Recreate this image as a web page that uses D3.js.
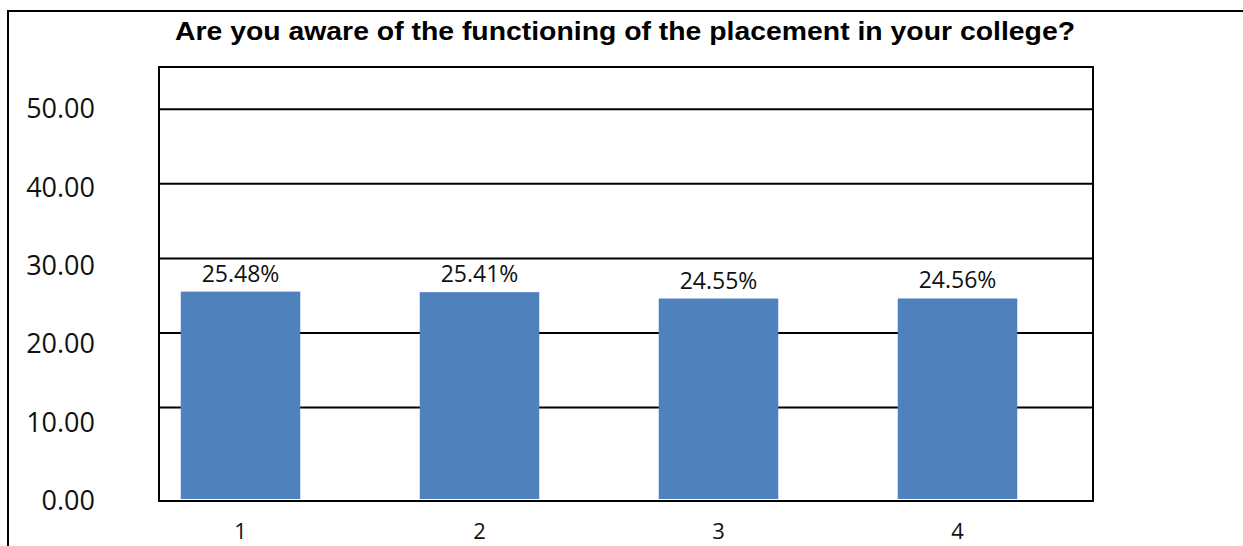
<!DOCTYPE html>
<html>
<head>
<meta charset="utf-8">
<script src="https://cdn.jsdelivr.net/npm/d3@7"></script>
<style>
  body { margin: 0; background: #fff; }
</style>
</head>
<body>
<div id="chart"></div>
<script>
// data
var categories = ["1", "2", "3", "4"];
var values = [25.48, 25.41, 24.55, 24.56];
var valueLabels = ["25.48%", "25.41%", "24.55%", "24.56%"];
var gridTicks = [10, 20, 30, 40, 50];
var tickLabels = [0, 10, 20, 30, 40, 50];
var title = "Are you aware of the functioning of the placement in your college?";

var W = 1243, H = 546;
// plot frame
var plot = {left: 159, top: 67, right: 1093, bottom: 501};

var svg = d3.select("#chart").append("svg")
    .attr("width", W)
    .attr("height", H);

// outer frame, only top and left edge visible
svg.append("path")
    .attr("d", "M8,546 L8,11 L1243,11")
    .attr("fill", "none")
    .attr("stroke", "#000")
    .attr("stroke-width", 2);

// x: band scale, categories sit a bit left of the plot centre
var x = d3.scaleBand()
    .domain(categories)
    .range([121, 1077])
    .paddingInner(0.5)
    .paddingOuter(0.25);

// y for grid and bars
var y = d3.scaleLinear()
    .domain([-2.6, 55.6])
    .range([plot.bottom, plot.top]);

// y for the tick labels (they do not line up with the grid in the picture)
var yLab = d3.scaleLinear()
    .domain([0, 50])
    .range([501, 109]);

// gridlines
svg.append("g")
    .attr("class", "grid")
    .attr("transform", "translate(" + plot.left + ",0)")
    .call(d3.axisLeft(y)
        .tickValues(gridTicks)
        .tickSize(-(plot.right - plot.left))
        .tickFormat(""))
    .call(function(g) { g.select(".domain").remove(); })
    .selectAll("line")
    .attr("stroke", "#000")
    .attr("stroke-width", 2);

// bars
svg.selectAll(".bar")
    .data(values)
  .enter().append("rect")
    .attr("class", "bar")
    .attr("x", function(d, i) { return x(categories[i]); })
    .attr("width", x.bandwidth())
    .attr("y", function(d) { return y(d); })
    .attr("height", function(d) { return plot.bottom - 2 - y(d); })
    .attr("fill", "#4F81BD");

// value labels
svg.selectAll(".vlabel")
    .data(values)
  .enter().append("text")
    .attr("class", "vlabel")
    .attr("x", function(d, i) { return x(categories[i]) + x.bandwidth() / 2; })
    .attr("y", function(d) { return y(d) - 10; })
    .attr("text-anchor", "middle")
    .style("font-family", '"Open Sans", sans-serif')
    .style("font-size", "23px")
    .style("fill", "#111")
    .text(function(d, i) { return valueLabels[i]; });

// plot frame
svg.append("rect")
    .attr("x", plot.left)
    .attr("y", plot.top)
    .attr("width", plot.right - plot.left)
    .attr("height", plot.bottom - plot.top)
    .attr("fill", "none")
    .attr("stroke", "#000")
    .attr("stroke-width", 2);

// y axis labels
var yAxis = svg.append("g")
    .attr("class", "y axis")
    .attr("transform", "translate(98,0)")
    .call(d3.axisLeft(yLab)
        .tickValues(tickLabels)
        .tickSize(0)
        .tickPadding(3)
        .tickFormat(d3.format(".2f")));
yAxis.select(".domain").remove();
yAxis.selectAll("text")
    .style("font-family", '"Open Sans", sans-serif')
    .style("font-size", "27px")
    .style("fill", "#111");

// x axis labels
var xAxis = svg.append("g")
    .attr("class", "x axis")
    .attr("transform", "translate(0," + plot.bottom + ")")
    .call(d3.axisBottom(x).tickSize(0).tickPadding(22));
xAxis.select(".domain").remove();
xAxis.selectAll("text")
    .style("font-family", '"Open Sans", sans-serif')
    .style("font-size", "22px")
    .style("fill", "#111");

// title
svg.append("text")
    .attr("class", "title")
    .attr("x", 625)
    .attr("y", 40)
    .attr("text-anchor", "middle")
    .attr("textLength", 900)
    .attr("lengthAdjust", "spacingAndGlyphs")
    .style("font-family", '"Liberation Sans", Arial, sans-serif')
    .style("font-size", "25px")
    .style("font-weight", "700")
    .text(title);
</script>
</body>
</html>
